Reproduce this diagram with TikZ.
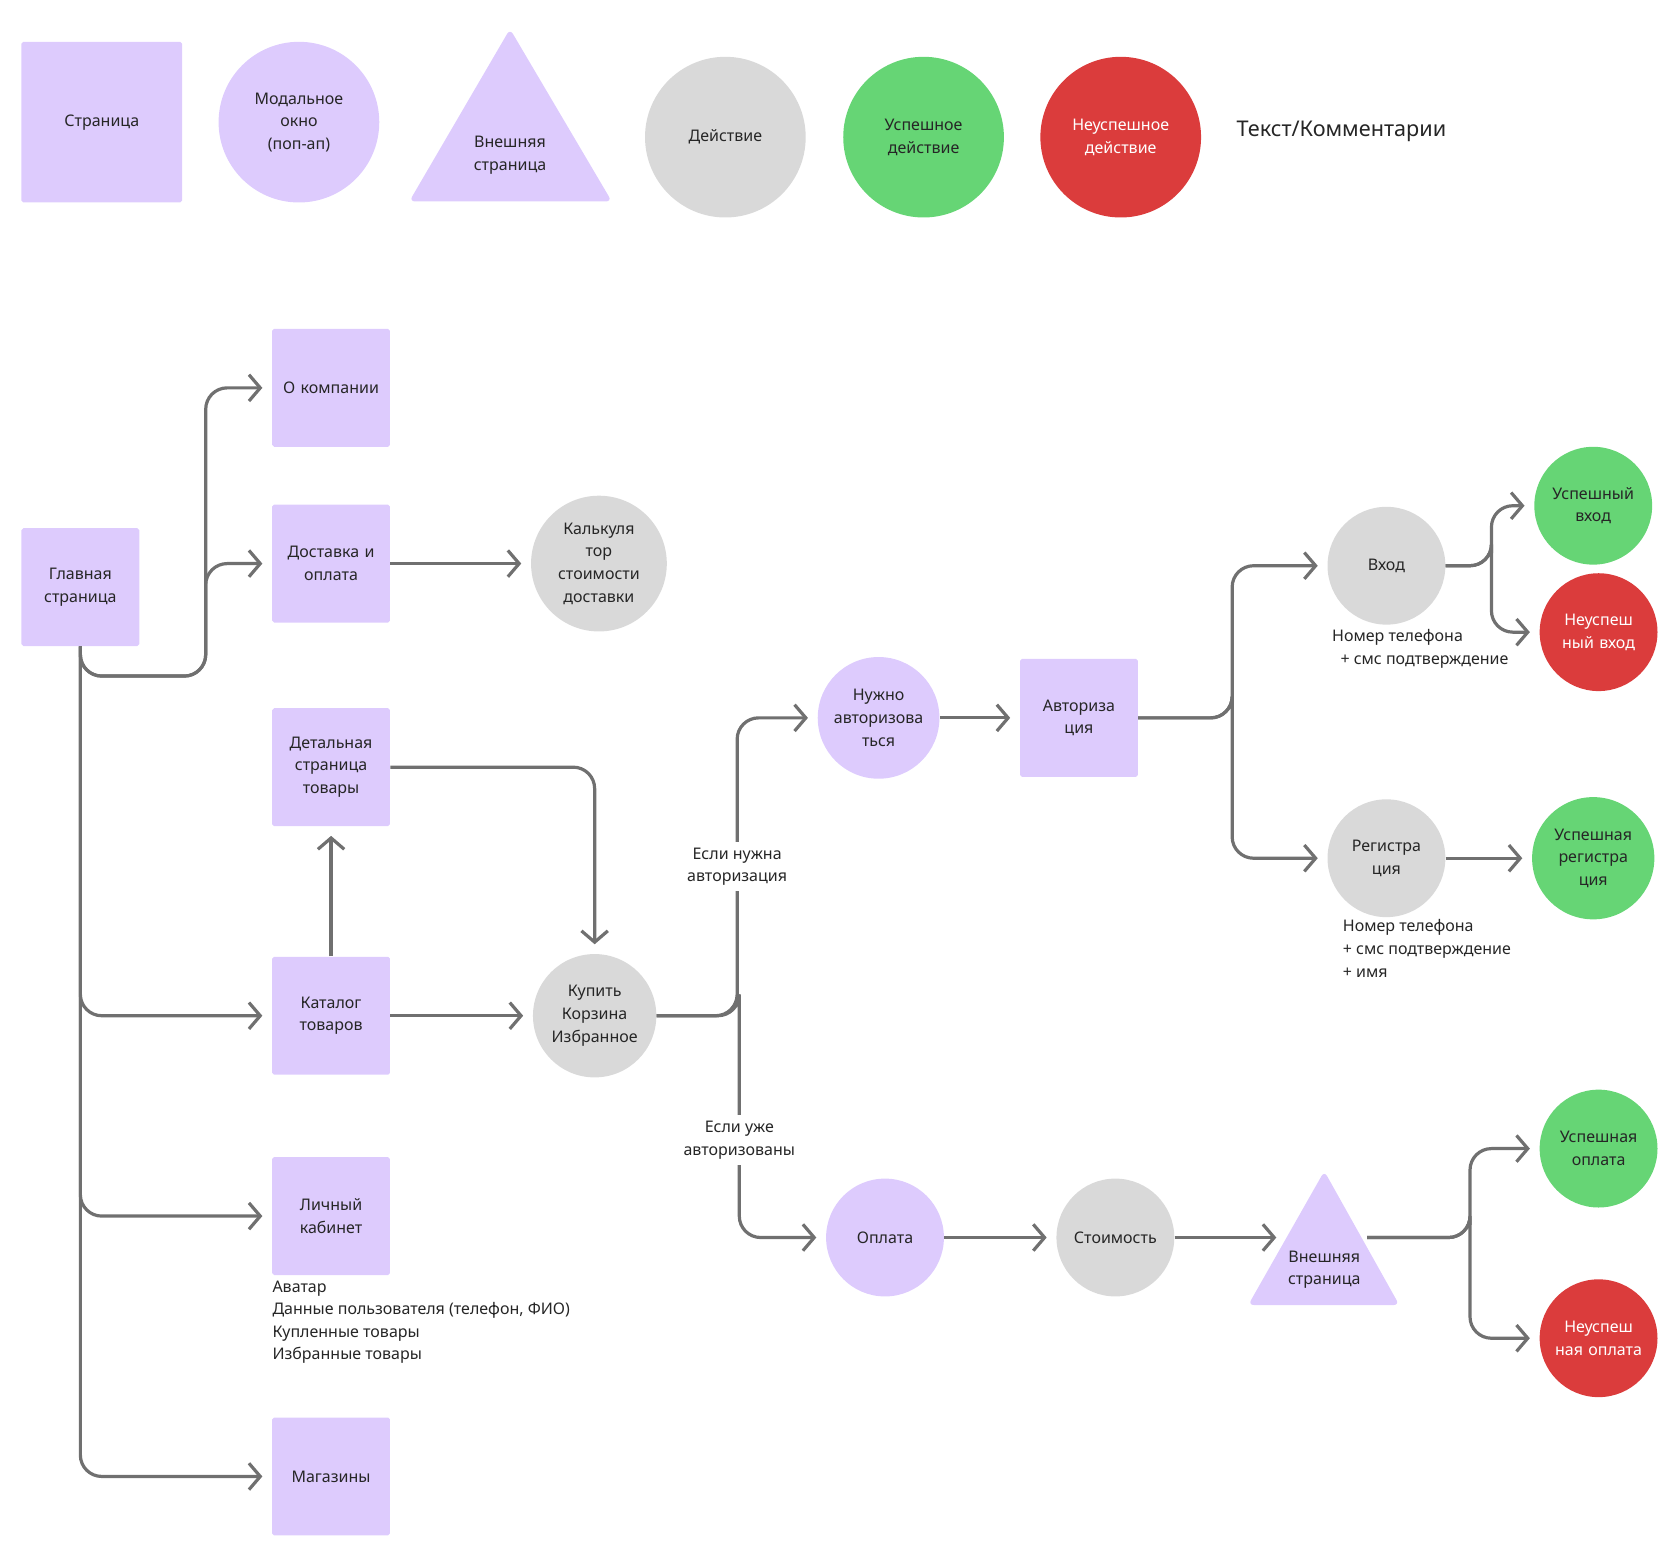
\documentclass[tikz,border=0pt]{standalone}
\usepackage{fontspec}
\setmainfont{Noto Sans}
\usetikzlibrary{positioning}
\usetikzlibrary{arrows.meta}
\definecolor{pagec}{HTML}{DDCBFD}
\definecolor{actc}{HTML}{D9D9D9}
\definecolor{goodc}{HTML}{66D575}
\definecolor{badc}{HTML}{DB3C3C}
\definecolor{linec}{HTML}{707070}
\tikzset{
  txt/.style={font=\fontsize{8.5}{12}\selectfont, align=center, text=black!85},
  page/.style={txt, fill=pagec, minimum size=2.2cm, inner sep=2pt, text width=2cm, rounded corners=1pt},
  modal/.style={txt, circle, fill=pagec, minimum size=2.2cm, inner sep=1pt, text width=1.9cm},
  act/.style={txt, circle, fill=actc, minimum size=2.2cm, inner sep=1pt, text width=1.9cm},
  good/.style={txt, circle, fill=goodc, minimum size=2.2cm, inner sep=1pt, text width=1.9cm},
  bad/.style={txt, circle, fill=badc, minimum size=2.2cm, inner sep=1pt, text width=1.9cm, text=white},
  note/.style={txt, align=left, anchor=north west, inner sep=0pt},
  cond/.style={txt, fill=white, inner sep=3pt},
  flow/.style={draw=linec, line width=1.7pt, rounded corners=0.4cm,
    -{Straight Barb[length=6pt, width=14pt, line width=1.7pt]}, shorten >=5pt},
}
\begin{document}
\begin{tikzpicture}[x=0.02cm, y=-0.02cm]
\useasboundingbox (0,0) rectangle (1568,1461);
% legend
\node[page, minimum size=3cm] (lgPage) at (95,114) {Страница};
\node[modal, minimum size=3cm] (lgModal) at (279,114) {Модальное\\окно (поп-ап)};
\fill[pagec, rounded corners=3pt] (476,27) -- (571,188) -- (382,188) -- cycle;
\node[txt] (lgExt) at (476,145) {Внешняя\\страница};
\node[act, minimum size=3cm] (lgAct) at (677,128) {Действие};
\node[good, minimum size=3cm] (lgGood) at (862,128) {Успешное\\действие};
\node[bad, minimum size=3cm] (lgBad) at (1046,128) {Неуспешное\\действие};
\node[txt, font=\fontsize{11.5}{14}\selectfont] (lgText) at (1252,123) {Текст/Комментарии};

% pages
\node[page] (main) at (75,548) {Главная\\страница};
\node[page] (about) at (309,362) {О компании};
\node[page] (delivery) at (309,526) {Доставка и\\оплата};
\node[act, minimum size=2.4cm] (calc) at (559,526) {Калькуля\\тор\\стоимости\\доставки};
\node[page] (detail) at (309,716) {Детальная\\страница\\товары};
\node[page] (catalog) at (309,948) {Каталог\\товаров};
\node[act] (buy) at (555,948) {Купить\\Корзина\\Избранное};
\node[page] (cabinet) at (309,1135) {Личный\\кабинет};
\node[page] (shops) at (309,1378) {Магазины};
\node[modal] (needAuth) at (820,670) {Нужно\\авторизова\\ться};
\node[page] (auth) at (1007,670) {Авториза\\ция};
\node[act] (login) at (1294,528) {Вход};
\node[act] (reg) at (1294,801) {Регистра\\ция};
\node[good] (loginOk) at (1487,472) {Успешный\\вход};
\node[bad] (loginFail) at (1492,590) {Неуспеш\\ный вход};
\node[good] (regOk) at (1487,801) {Успешная\\регистра\\ция};
\node[modal] (pay) at (826,1155) {Оплата};
\node[act] (cost) at (1041,1155) {Стоимость};
\fill[pagec, rounded corners=3pt] (1236,1093) -- (1306,1218) -- (1165,1218) -- cycle;
\node[txt] (ext) at (1236,1185) {Внешняя\\страница};
\coordinate (extIn) at (1200,1155);
\coordinate (extOut) at (1276,1155);
\node[good] (payOk) at (1492,1072) {Успешная\\оплата};
\node[bad] (payFail) at (1492,1249) {Неуспеш\\ная оплата};

% comments
\node[note] (loginNote) at (1243,587) {Номер телефона\\\ \ + смс подтверждение};
\node[note] (regNote) at (1253,858) {Номер телефона\\+ смс подтверждение\\+ имя};
\node[note] (cabNote) at (254,1195) {Аватар\\Данные пользователя (телефон, ФИО)\\Купленные товары\\Избранные товары};

% connectors
\draw[flow] (main.south) |- (192,631) |- (about.west);
\draw[flow] (main.south) |- (192,631) |- (delivery.west);
\draw[flow] (main.south) |- (catalog.west);
\draw[flow] (main.south) |- (cabinet.west);
\draw[flow] (main.south) |- (shops.west);
\draw[flow] (delivery.east) -- (calc.west);
\draw[flow] (catalog.north) -- (detail.south);
\draw[flow] (detail.east) -| (buy.north);
\draw[flow] (catalog.east) -- (buy.west);
\draw[flow] (buy.east) -| (688,948) |- (needAuth.west);
\draw[flow] (buy.east) -| (690,948) |- (pay.west);
\node[cond] (condNeed) at (688,809) {Если нужна\\авторизация};
\node[cond] (condDone) at (690,1064) {Если уже\\авторизованы};
\draw[flow] (needAuth.east) -- (auth.west);
\draw[flow] (auth.east) -| (1150,670) |- (login.west);
\draw[flow] (auth.east) -| (1150,670) |- (reg.west);
\draw[flow] (login.east) -| (1392,528) |- (loginOk.west);
\draw[flow] (login.east) -| (1392,528) |- (loginFail.west);
\draw[flow] (reg.east) -- (regOk.west);
\draw[flow] (pay.east) -- (cost.west);
\draw[flow] (cost.east) -- (extIn);
\draw[flow] (extOut) -| (1372,1155) |- (payOk.west);
\draw[flow] (extOut) -| (1372,1155) |- (payFail.west);
\end{tikzpicture}
\end{document}
